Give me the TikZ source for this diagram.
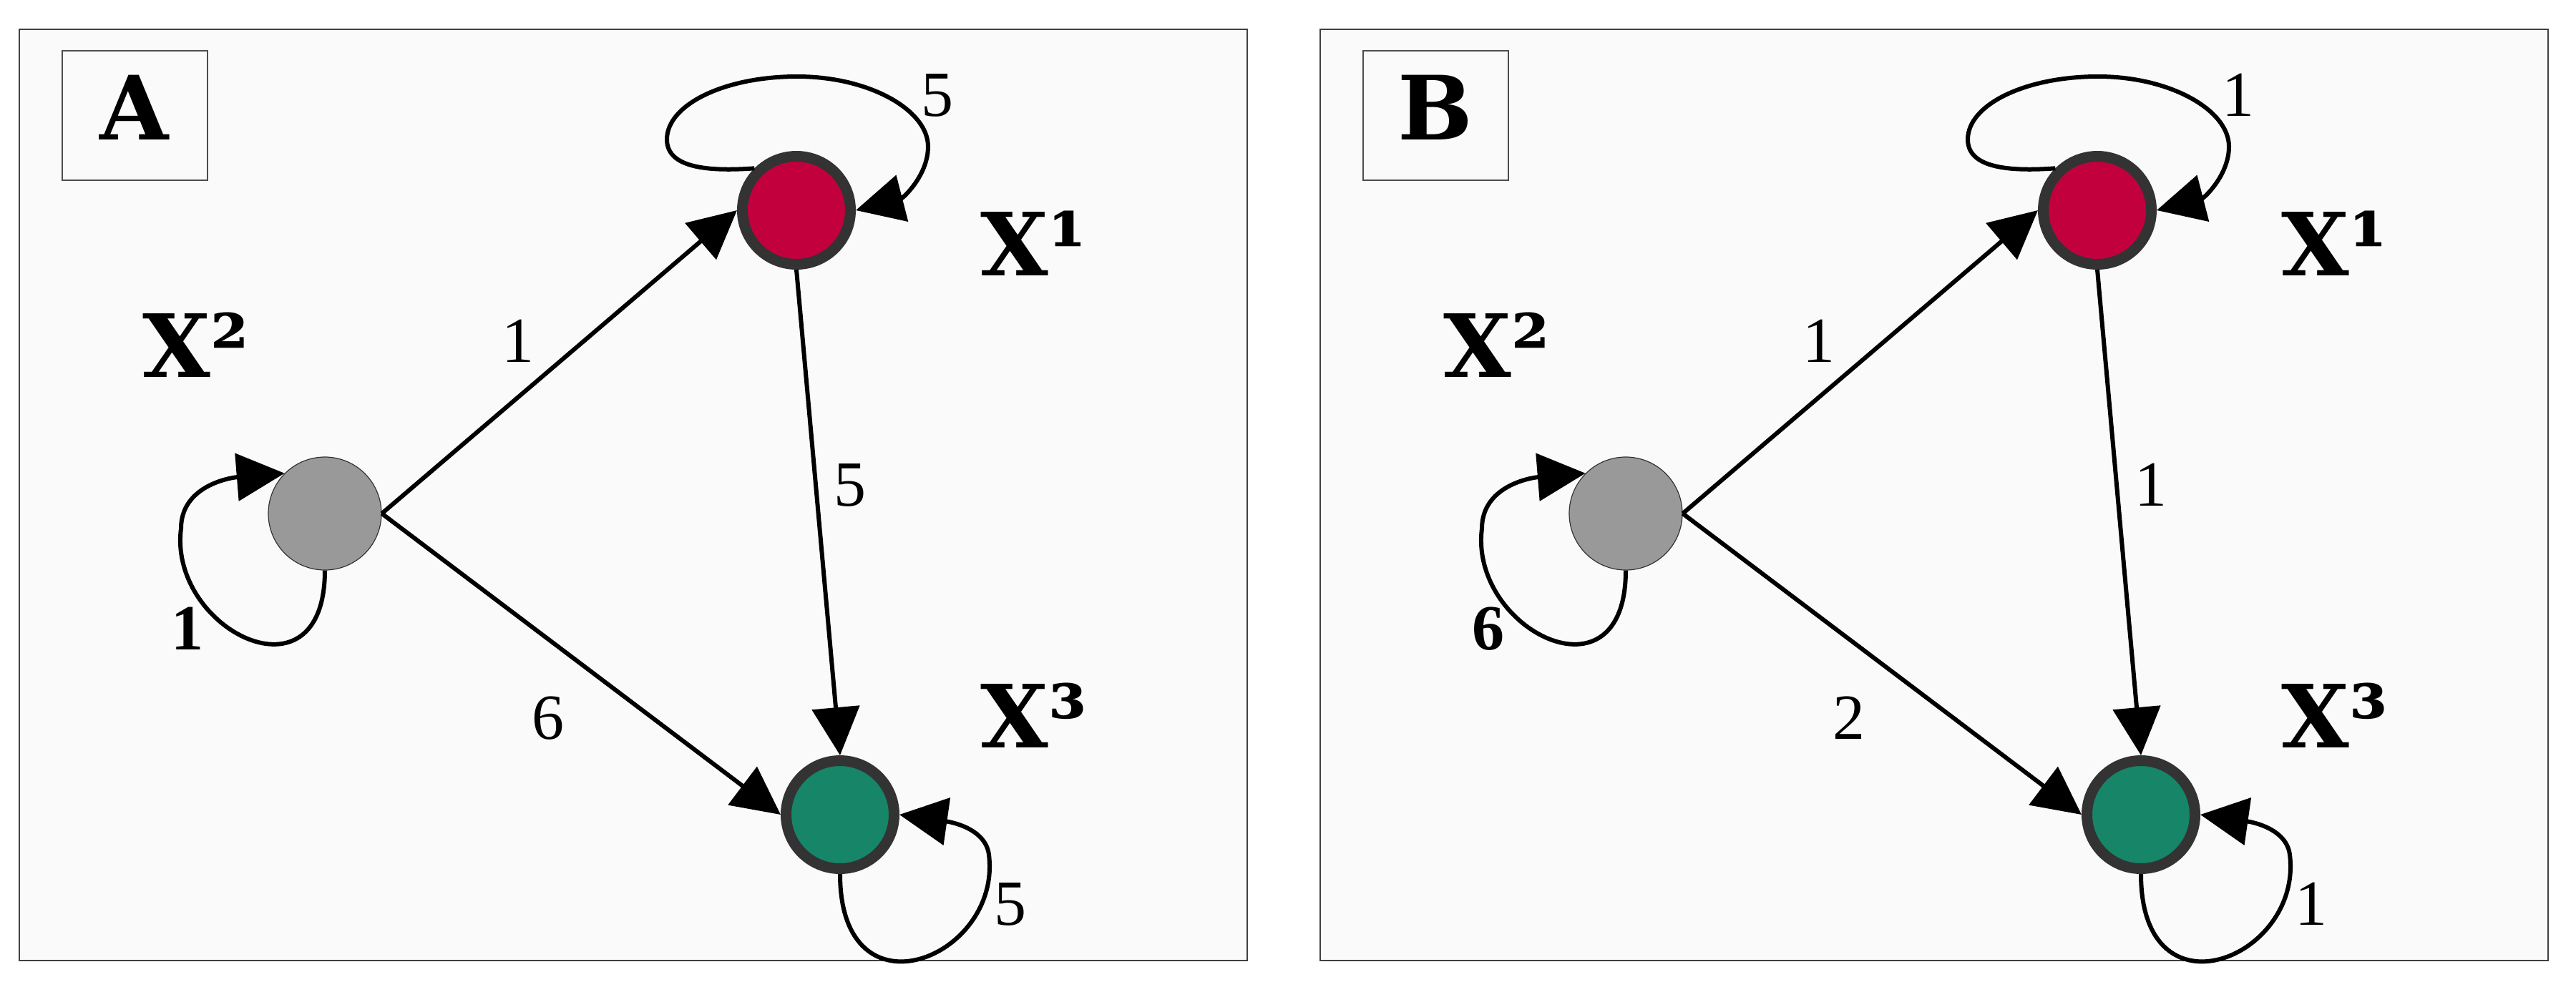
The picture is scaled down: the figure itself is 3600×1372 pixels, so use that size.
\documentclass[tikz,border=0pt]{standalone}
\usepackage{fontspec}
\usetikzlibrary{arrows.meta}
\newfontfamily\labfont{DejaVu Serif}
\newfontfamily\numfont{Liberation Serif}
\definecolor{nodered}{HTML}{C3003E}
\definecolor{nodegreen}{HTML}{168568}
\definecolor{nodegray}{HTML}{999999}
\definecolor{ringgray}{HTML}{333333}
\definecolor{panelbg}{HTML}{FAFAFA}
\newcommand\mypanel[9]{%
\begin{scope}[xshift=#2]
\draw[panel] (27,41) rectangle (1743,1343);
\draw[tagline] (87,71) rectangle (290,252);
\node[tagfont] (#1tag) at (188,150) {#3};
\node[redn] (#1x1) at (1113,294) {};
\node[grayn] (#1x2) at (454,718) {};
\node[greenn] (#1x3) at (1174,1139) {};
\node[xlab] (#1l1) at (1370,385) {X¹};
\node[xlab] (#1l2) at (199,527) {X²};
\node[xlab] (#1l3) at (1370,1045) {X³};
\draw[edge] (#1x2.east) -- (#1x1.west);
\draw[edge] (#1x2.east) -- (#1x3.west);
\draw[edge] (#1x1.south) -- (#1x3.north);
\draw[edge] (#1x1.135) .. controls (990,240) and (932,235) .. (932,195)
   .. controls (932,146) and (1013,107) .. (1114,107)
   .. controls (1215,107) and (1297,154) .. (1297,205)
   .. controls (1297,245) and (1262,277) .. (#1x1.east);
\draw[edge] (#1x2.south) .. controls (454,990) and (235,880) .. (253,739)
   .. controls (253,680) and (320,668) .. (#1x2.135);
\draw[edge] (#1x3.south) .. controls (1174,1430) and (1400,1340) .. (1382,1195)
   .. controls (1377,1155) and (1320,1148) .. (#1x3.east);
\node[num] (#1n11) at (1310,133) {#4};
\node[num] (#1n21) at (724,477) {#5};
\node[num] (#1n13) at (1188,678) {#6};
\node[num] (#1n23) at (766,1004) {#7};
\node[numb] (#1n22) at (262,879) {#8};
\node[num] (#1n33) at (1412,1264) {#9};
\end{scope}}
\begin{document}
\begin{tikzpicture}[x=0.25pt,y=-0.25pt,
  ring/.style={circle, draw=ringgray, line width=3.75pt, minimum size=37.75pt, inner sep=0pt},
  redn/.style={ring, fill=nodered},
  greenn/.style={ring, fill=nodegreen},
  grayn/.style={circle, draw=ringgray, line width=0.3pt, fill=nodegray, minimum size=39.5pt, inner sep=0pt},
  edge/.style={draw=black, line width=1.5pt, -{Triangle[length=16.75pt,width=16.5pt]}},
  xlab/.style={font=\labfont\bfseries\fontsize{30.5pt}{36pt}\selectfont, inner sep=0pt, anchor=base west},
  num/.style={font=\numfont\fontsize{22.5pt}{27pt}\selectfont, inner sep=0pt},
  numb/.style={font=\numfont\bfseries\fontsize{22.5pt}{27pt}\selectfont, inner sep=0pt},
  panel/.style={fill=panelbg, draw=black!75, line width=0.6pt},
  tagline/.style={draw=black!70, line width=0.5pt},
  tagfont/.style={font=\labfont\bfseries\fontsize{31pt}{36pt}\selectfont, inner sep=0pt}
]
\useasboundingbox[fill=white] (0,0) rectangle (3600,1372);
\mypanel{a}{0pt}{A}{5}{1}{5}{6}{1}{5}
\mypanel{b}{454.5pt}{B}{1}{1}{1}{2}{6}{1}
\end{tikzpicture}
\end{document}
